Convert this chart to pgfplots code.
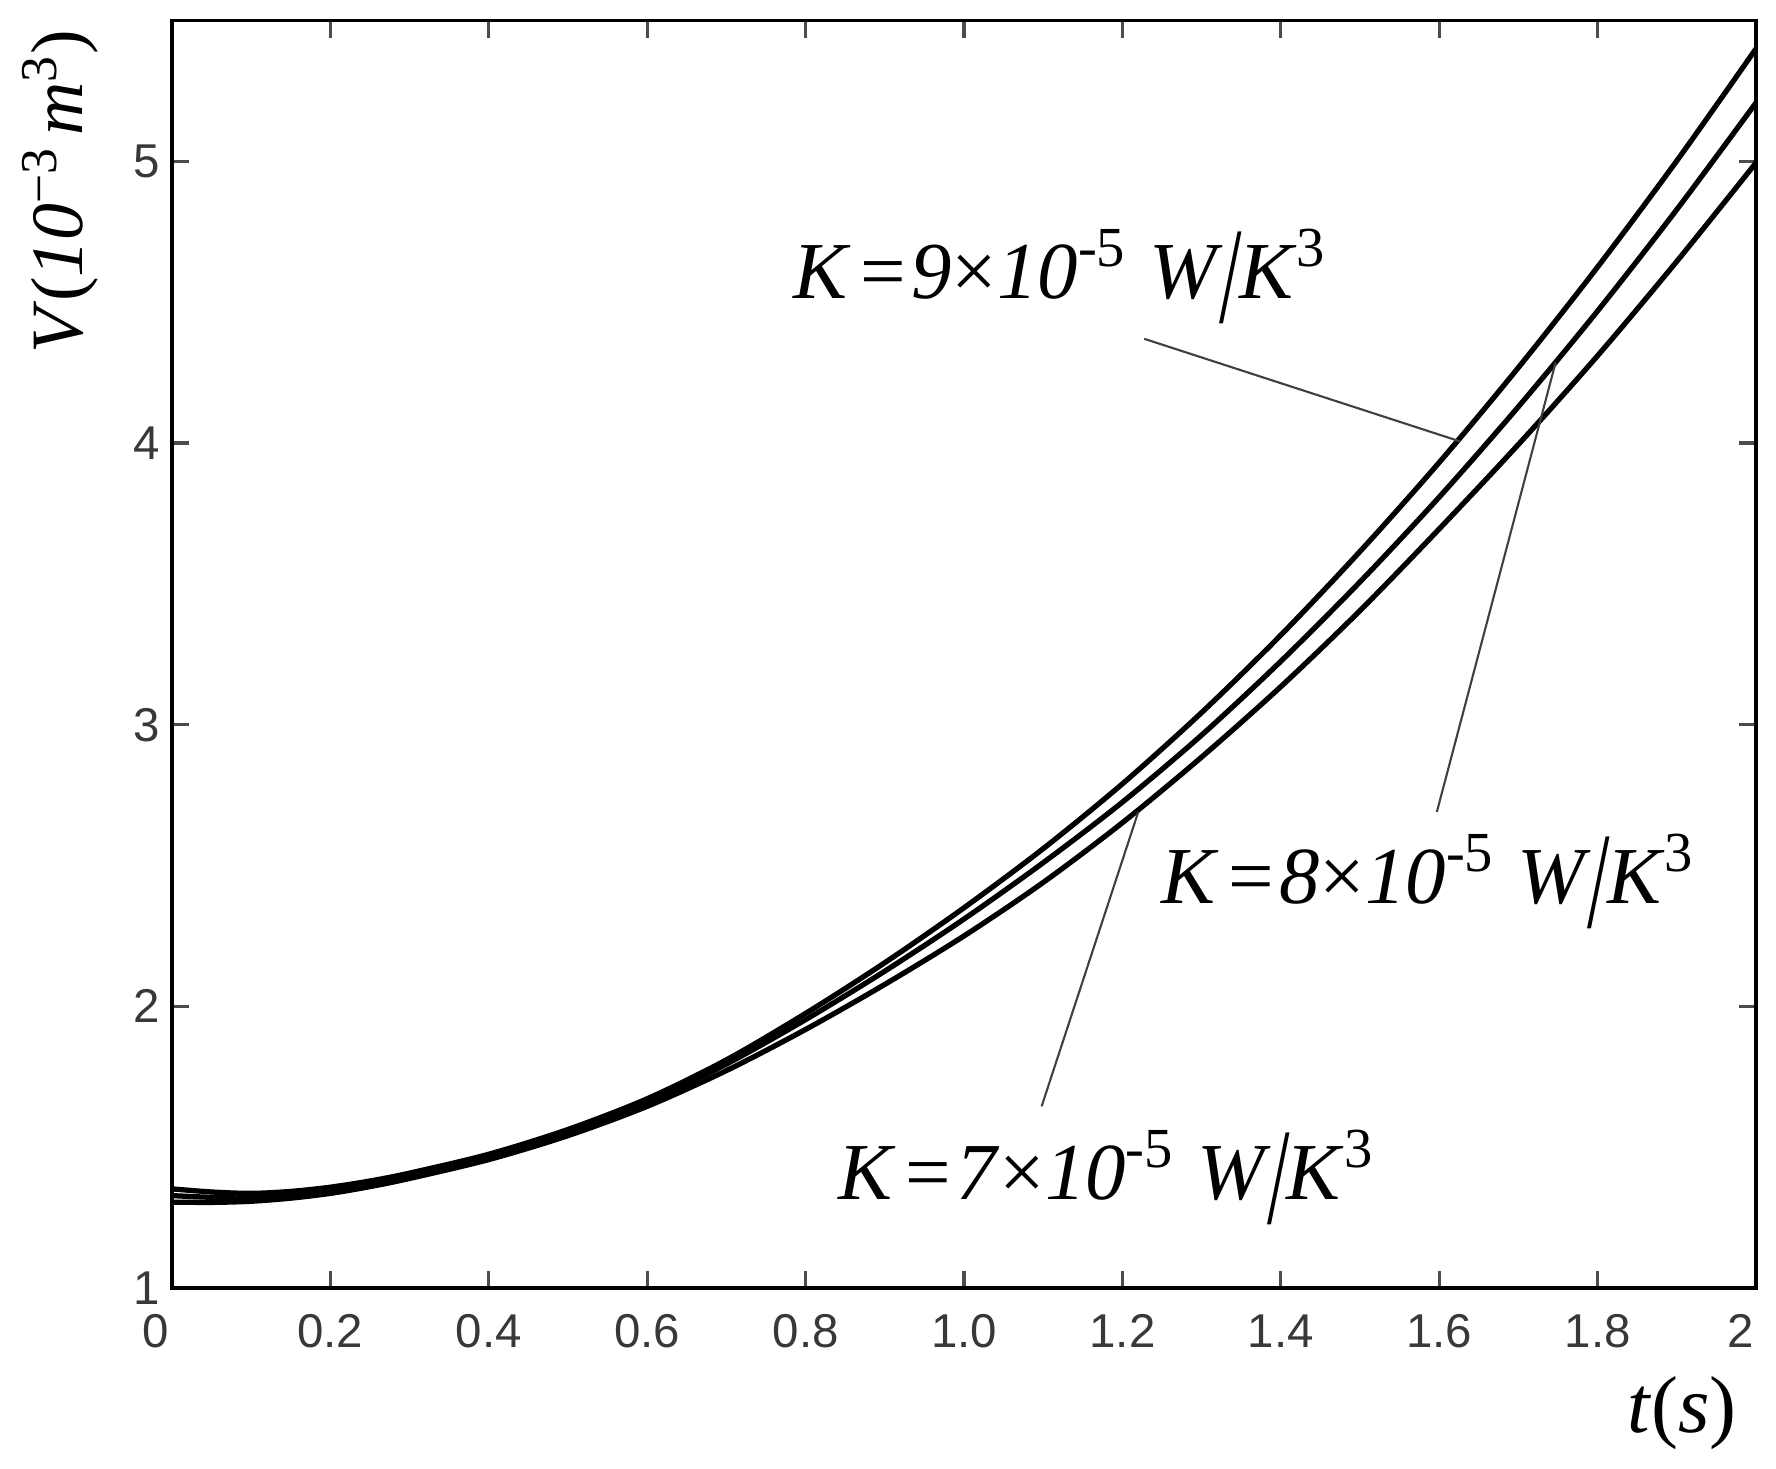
\documentclass[border=0pt]{standalone}
\usepackage{pgfplots}
\pgfplotsset{compat=1.18}
\usepackage{fontspec}
\usepackage{graphicx}
\setmainfont{Liberation Serif}
\newfontfamily\ticksans{Liberation Sans}

\pgfplotstableread{
t     k9     k8     k7
0.00  1.352  1.328  1.305
0.05  1.341  1.322  1.304
0.10  1.336  1.320  1.308
0.15  1.343  1.330  1.319
0.20  1.358  1.346  1.336
0.25  1.380  1.370  1.360
0.30  1.408  1.399  1.389
0.40  1.475  1.466  1.456
0.50  1.563  1.553  1.541
0.60  1.672  1.660  1.645
0.70  1.810  1.795  1.772
0.80  1.975  1.953  1.918
0.90  2.155  2.125  2.078
1.00  2.350  2.310  2.250
1.10  2.560  2.510  2.440
1.20  2.790  2.725  2.652
1.30  3.043  2.963  2.885
1.40  3.318  3.225  3.135
1.50  3.615  3.507  3.405
1.60  3.931  3.808  3.695
1.70  4.268  4.129  3.995
1.80  4.625  4.469  4.310
1.90  5.002  4.829  4.645
2.00  5.400  5.208  4.995
}\datatable

\newcommand{\klabel}[1]{\textit{K}\hspace{0.12em}=\hspace{0.06em}\textit{#1}×\textit{10}\textsuperscript{-5}\hspace{0.28em}\textit{W}\hspace{-0.04em}\raisebox{-0.30em}{\scalebox{1}[1.7]{/}}\hspace{-0.04em}\textit{K}\textsuperscript{3}}

\begin{document}
\begin{tikzpicture}
\useasboundingbox (0,0) rectangle (17.76,14.68);
\begin{axis}[
  at={(1.72cm,1.80cm)}, anchor=south west,
  scale only axis, width=15.84cm, height=12.675cm,
  xmin=0, xmax=2, ymin=1, ymax=5.5,
  xtick={0,0.2,0.4,0.6,0.8,1.0,1.2,1.4,1.6,1.8,2},
  xticklabels={0\hspace*{9pt},0.2,0.4,0.6,0.8,1.0,1.2,1.4,1.6,1.8,2\hspace*{9pt}},
  ytick={1,2,3,4,5}, yticklabels={1,2,3,4,5},
  tick align=inside, major tick length=0.17cm,
  tick style={black!70, line width=0.9pt},
  axis line style={black, line width=1pt},
  ticklabel style={font=\ticksans\fontsize{13.5}{16}\selectfont, text=black!78},
  xticklabel style={yshift=-4pt},
]
\addplot[black, line width=1.5pt, smooth, no markers] table[x=t, y=k9] {\datatable};
\addplot[black, line width=1.5pt, smooth, no markers] table[x=t, y=k8] {\datatable};
\addplot[black, line width=1.5pt, smooth, no markers] table[x=t, y=k7] {\datatable};
\draw[black!75, line width=0.6pt] (axis cs:1.2275,4.37) -- (axis cs:1.626,4.006);
\draw[black!75, line width=0.6pt] (axis cs:1.597,2.69) -- (axis cs:1.747,4.286);
\draw[black!75, line width=0.6pt] (axis cs:1.098,1.645) -- (axis cs:1.220,2.69);
\end{axis}
\begin{scope}[every node/.style={inner sep=0pt, font=\fontsize{23}{27}\selectfont}]
\node[anchor=base west] at (7.93,11.70) {\klabel{9}};
\node[anchor=base west] at (11.61,5.65) {\klabel{8}};
\node[anchor=base west] at (8.38,2.69) {\klabel{7}};
\node[rotate=90, font=\fontsize{21}{25}\selectfont] at (0.60,12.76) {\textit{V}(\textit{10}\textsuperscript{−3}\hspace{0.15em}\textit{m}\textsuperscript{3})};
\node at (16.82,0.55) {\textit{t}(\textit{s})};
\end{scope}
\end{tikzpicture}
\end{document}
